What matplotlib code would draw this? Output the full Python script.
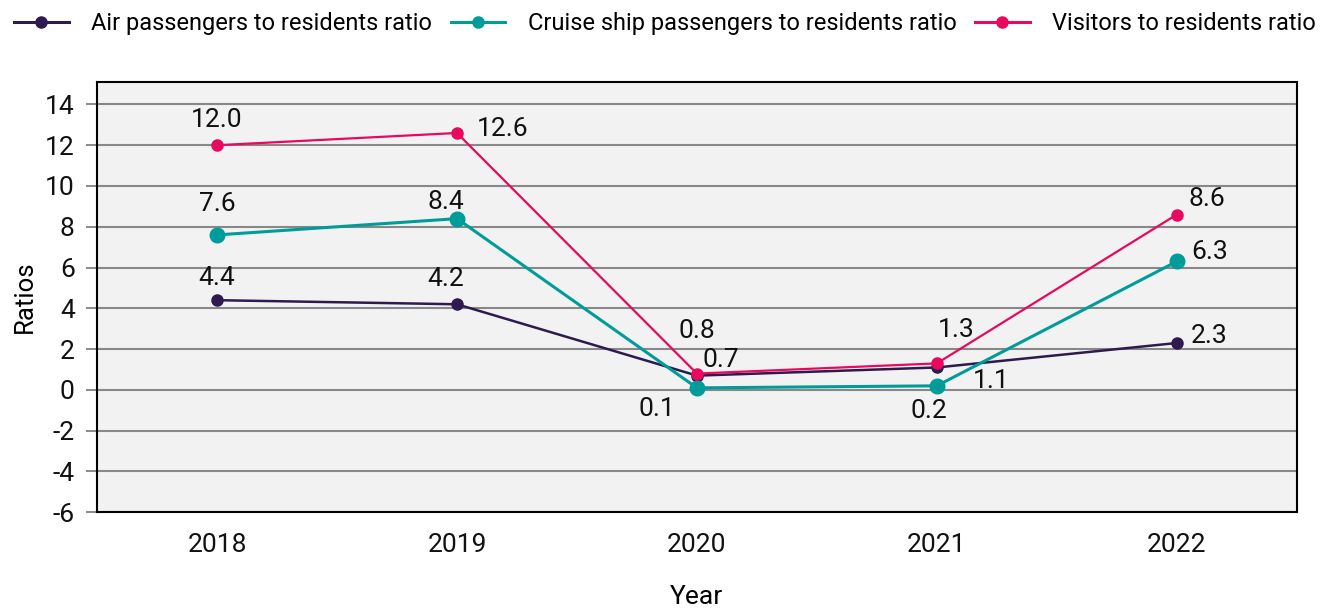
import matplotlib.pyplot as plt
from matplotlib.lines import Line2D

plt.rcParams['font.family'] = ['Roboto', 'DejaVu Sans']
plt.rcParams['axes.unicode_minus'] = False

# data
years = ['2018', '2019', '2020', '2021', '2022']
air = [4.4, 4.2, 0.7, 1.1, 2.3]
cruise = [7.6, 8.4, 0.1, 0.2, 6.3]
visitors = [12.0, 12.6, 0.8, 1.3, 8.6]

# label offsets (points) for each value label
air_off = [(0, 16), (-8, 18), (17, 11), (39, -10), (23, 5)]
cruise_off = [(0, 22), (-8, 12), (-29, -15), (-6, -18), (24, 7)]
vis_off = [(0, 18), (33, 3), (0, 31), (14, 24), (22, 11)]

colors = ['#2E1A4F', '#009C9A', '#E8095F']
names = ['Air passengers to residents ratio',
         'Cruise ship passengers to residents ratio',
         'Visitors to residents ratio']

fig = plt.figure(figsize=(13.3, 6.12), dpi=100)
ax = fig.add_axes([0.073, 0.163, 0.902, 0.703])
ax.set_facecolor('#F2F2F2')

x = list(range(len(years)))
ax.plot(x, air, color=colors[0], marker='o', markersize=8, linewidth=1.8, zorder=3)
ax.plot(x, cruise, color=colors[1], marker='o', markersize=10.5, linewidth=2.2, zorder=3)
ax.plot(x, visitors, color=colors[2], marker='o', markersize=8, linewidth=1.6, zorder=4)

for vals, offs in [(air, air_off), (cruise, cruise_off), (visitors, vis_off)]:
    for i, v in enumerate(vals):
        ax.annotate(f'{v:.1f}', (i, v), xytext=offs[i], textcoords='offset points',
                    ha='center', va='center', fontsize=19, color='#111111', zorder=5)

ax.set_xlim(-0.5, 4.5)
ax.set_ylim(-6, 15.1)
ax.set_yticks(range(-6, 15, 2))
ax.set_xticks(x)
ax.set_xticklabels(years)
ax.tick_params(axis='both', labelsize=19, colors='#111111')
ax.tick_params(axis='x', length=0, pad=15)
ax.tick_params(axis='y', length=8, width=1.2, color='#777777', pad=8)
ax.grid(axis='y', color='#888888', linewidth=1.5)
ax.set_axisbelow(True)
for s in ax.spines.values():
    s.set_color('black')
    s.set_linewidth(1.5)

ax.set_xlabel('Year', fontsize=19, labelpad=20)
ax.set_ylabel('Ratios', fontsize=18.5, labelpad=6)

handles = [Line2D([], [], color=c, marker='o', markersize=8, linewidth=2.2) for c in colors]
fig.legend(handles, names, loc='upper center', bbox_to_anchor=(0.5, 1.015), ncol=3,
           frameon=False, fontsize=17, handlelength=2.3, columnspacing=0.8,
           handletextpad=0.95)

fig.savefig('out.png', dpi=100)
